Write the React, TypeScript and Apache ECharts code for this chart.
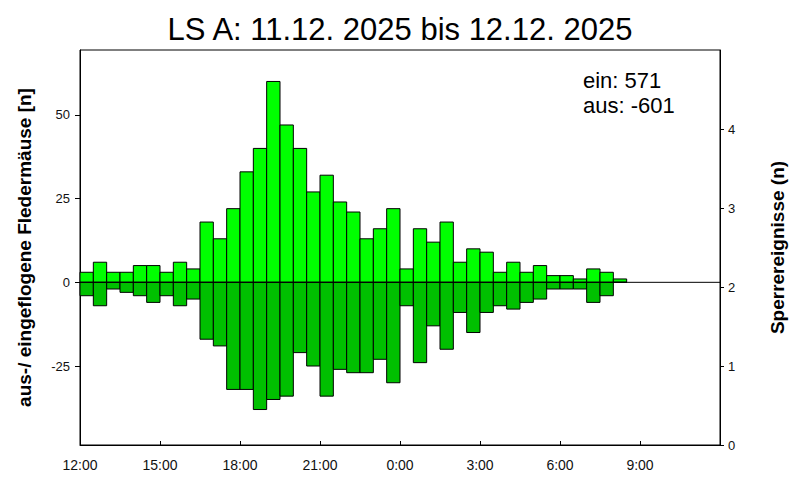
import React, { useEffect, useRef } from "react";
import * as echarts from "echarts";

// 30-minute bins starting at 12:00 on 11.12.2025
const einValues = [3, 6, 3, 3, 5, 5, 3, 6, 4, 18, 13, 22, 33, 40, 60, 47, 40, 27, 32, 24, 21, 13, 16, 22, 4, 16, 12, 18, 6, 10, 9, 3, 6, 3, 5, 2, 2, 1, 4, 3, 1];
const ausValues = [-4, -7, -2, -3, -4, -6, -4, -7, -5, -17, -19, -32, -32, -38, -35, -34, -21, -25, -34, -26, -27, -27, -23, -30, -7, -24, -13, -20, -9, -15, -9, -7, -8, -6, -5, -2, -2, -2, -6, -4, 0];
const binHours = 0.5;
const xTickLabels = ["12:00", "15:00", "18:00", "21:00", "0:00", "3:00", "6:00", "9:00", ""];
const leftTicks = [-25, 0, 25, 50];
const sperrTicks = [0, 1, 2, 3, 4];
const sperrValues: number[] = [];
const titleText = "LS A: 11.12. 2025 bis 12.12. 2025";
const einTotal = einValues.reduce((a, b) => a + b, 0);
const ausTotal = ausValues.reduce((a, b) => a + b, 0);

const FONT = "Liberation Sans, Arial, sans-serif";

function barData(vals: number[]) {
  return vals.map((v, i) => [i * binHours, (i + 1) * binHours, v]);
}

function makeRender(fill: string) {
  return (params: any, api: any) => {
    const s = api.value(0);
    const e = api.value(1);
    const v = api.value(2);
    const p0 = api.coord([s, 0]);
    const p1 = api.coord([e, v]);
    const x = Math.min(p0[0], p1[0]);
    const y = Math.min(p0[1], p1[1]);
    return {
      type: "rect",
      shape: { x, y, width: Math.abs(p1[0] - p0[0]), height: Math.abs(p1[1] - p0[1]) },
      style: { fill, stroke: "#000", lineWidth: 1 },
    };
  };
}

export default function App() {
  const ref = useRef<HTMLDivElement>(null);
  useEffect(() => {
    if (!ref.current) return;
    const chart = echarts.init(ref.current, undefined, { renderer: "svg" });
    chart.setOption({
      animation: false,
      backgroundColor: "#fff",
      textStyle: { fontFamily: FONT },
      grid: { left: 80, right: 80, top: 50, bottom: 55, show: true, borderColor: "#000", borderWidth: 1 },
      xAxis: {
        type: "value",
        min: 0,
        max: 24,
        interval: 3,
        splitLine: { show: false },
        axisLine: { show: true, onZero: false, lineStyle: { color: "#000", width: 1 } },
        axisTick: { show: true, inside: true, length: 4, lineStyle: { color: "#000" } },
        axisLabel: {
          color: "#111",
          fontSize: 14,
          fontFamily: FONT,
          margin: 13,
          showMaxLabel: true,
          formatter: (v: number) => xTickLabels[Math.round(v / 3)] ?? "",
        },
      },
      yAxis: [
        {
          type: "value",
          min: -48.6,
          max: 69.4,
          position: "left",
          splitLine: { show: false },
          axisLine: { show: true, onZero: false, lineStyle: { color: "#000" } },
          axisTick: { show: true, length: 5, customValues: leftTicks, lineStyle: { color: "#000" } },
          axisLabel: { color: "#111", fontSize: 13, fontFamily: FONT, margin: 10, customValues: leftTicks },
          name: "aus-/ eingeflogene Fledermäuse [n]",
          nameLocation: "middle",
          nameRotate: 90,
          nameGap: 46,
          nameTextStyle: { color: "#000", fontSize: 19, fontWeight: "bold", fontFamily: FONT },
        },
        {
          type: "value",
          min: 0,
          max: 5,
          position: "right",
          splitLine: { show: false },
          axisLine: { show: true, onZero: false, lineStyle: { color: "#000" } },
          axisTick: { show: true, length: 4, customValues: sperrTicks, lineStyle: { color: "#000" } },
          axisLabel: { color: "#111", fontSize: 13, fontFamily: FONT, margin: 8, customValues: sperrTicks },
          name: "Sperrereignisse (n)",
          nameLocation: "middle",
          nameRotate: 90,
          nameGap: 48,
          nameTextStyle: { color: "#000", fontSize: 19, fontWeight: "bold", fontFamily: FONT },
        },
      ],
      graphic: [
        {
          type: "text",
          x: 400,
          y: 29.6,
          style: { text: titleText, fontSize: 31, fontFamily: FONT, fill: "#000", textAlign: "center", textVerticalAlign: "middle" },
        },
        {
          type: "text",
          x: 583,
          y: 80.5,
          style: { text: "ein: " + einTotal, fontSize: 22, fontFamily: FONT, fill: "#000", textAlign: "left", textVerticalAlign: "middle" },
        },
        {
          type: "text",
          x: 583,
          y: 105.5,
          style: { text: "aus: " + ausTotal, fontSize: 22, fontFamily: FONT, fill: "#000", textAlign: "left", textVerticalAlign: "middle" },
        },
      ],
      series: [
        {
          name: "ein",
          type: "custom",
          renderItem: makeRender("#00ff00"),
          data: barData(einValues),
          encode: { x: [0, 1], y: 2 },
          yAxisIndex: 0,
        },
        {
          name: "aus",
          type: "custom",
          renderItem: makeRender("#00c000"),
          data: barData(ausValues),
          encode: { x: [0, 1], y: 2 },
          yAxisIndex: 0,
        },
        {
          name: "null",
          type: "line",
          data: [[0, 0], [24, 0]],
          showSymbol: false,
          symbol: "none",
          lineStyle: { color: "#000", width: 1 },
          yAxisIndex: 0,
          silent: true,
          z: 5,
        },
        {
          name: "Sperrereignisse",
          type: "line",
          data: sperrValues,
          yAxisIndex: 1,
          showSymbol: false,
        },
      ],
    });
    return () => chart.dispose();
  }, []);
  return <div ref={ref} style={{ position: "fixed", left: 0, top: 0, width: 800, height: 500 }} />;
}
